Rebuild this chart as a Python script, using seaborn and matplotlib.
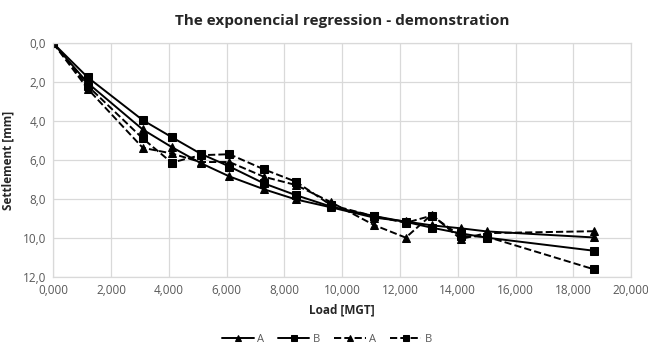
import numpy as np
import pandas as pd
import matplotlib
matplotlib.use('Agg')
import matplotlib.pyplot as plt
import matplotlib.ticker as mticker
import seaborn as sns

sns.set_style('white')
plt.rcParams['font.family'] = ['Open Sans', 'DejaVu Sans']

# Load [MGT] - shared by all series
load = [0.0, 1.2, 3.1, 4.1, 5.1, 6.1, 7.3, 8.4, 9.6, 11.1, 12.2, 13.1, 14.1, 15.0, 18.7]

# regression curves (solid)
reg_a = [0.0, 2.05, 4.43, 5.33, 6.15, 6.84, 7.5, 8.02, 8.42, 8.95, 9.15, 9.35, 9.5, 9.66, 9.97]
reg_b = [0.0, 1.76, 3.95, 4.82, 5.67, 6.33, 7.2, 7.8, 8.38, 8.87, 9.17, 9.47, 9.76, 9.98, 10.65]

# measured values (dashed)
meas_a = [0.0, 2.35, 5.37, 5.66, 6.1, 6.1, 6.86, 7.28, 8.15, 9.33, 9.98, 8.8, 10.05, 9.75, 9.65]
meas_b = [0.0, 2.2, 4.89, 6.13, 5.75, 5.7, 6.48, 7.11, 8.3, 8.88, 9.22, 8.85, 9.9, 9.93, 11.6]

series = [
    ('A', reg_a, '-', '^'),
    ('B', reg_b, '-', 's'),
    ('A', meas_a, '--', '^'),
    ('B', meas_b, '--', 's'),
]

fig, ax = plt.subplots(figsize=(6.48, 3.48), dpi=100)
fig.subplots_adjust(left=0.082, right=0.974, top=0.876, bottom=0.204)

for name, vals, ls, mk in series:
    df = pd.DataFrame({'load': load, 'settlement': vals})
    sns.lineplot(data=df, x='load', y='settlement', ax=ax, color='black',
                 linestyle=ls, linewidth=1.4, marker=mk, markersize=6,
                 markeredgecolor='black', label=name, sort=False)

ax.set_xlim(0, 20)
ax.set_ylim(12, 0)
ax.xaxis.set_major_locator(mticker.MultipleLocator(2))
ax.yaxis.set_major_locator(mticker.MultipleLocator(2))
ax.xaxis.set_major_formatter(mticker.FuncFormatter(lambda v, p: f'{v:.3f}'.replace('.', ',')))
ax.yaxis.set_major_formatter(mticker.FuncFormatter(lambda v, p: f'{v:.1f}'.replace('.', ',')))

ax.grid(True, color='#d9d9d9', linewidth=0.9)
for sp in ax.spines.values():
    sp.set_color('#d9d9d9')
    sp.set_linewidth(0.9)
ax.tick_params(axis='both', length=0, labelsize=8.5, labelcolor='#595959', pad=5)

ax.set_title('The exponencial regression - demonstration', fontsize=11,
             fontweight='bold', color='#262626', pad=13)
ax.set_xlabel('Load [MGT]', fontsize=8.5, fontweight='bold', color='#262626', labelpad=5)
ax.set_ylabel('Settlement [mm]', fontsize=8.5, fontweight='bold', color='#262626', labelpad=6)

handles, labels = ax.get_legend_handles_labels()
ax.get_legend().remove()
leg = fig.legend(handles, labels, loc='center', bbox_to_anchor=(0.505, 0.025), ncol=4,
                 frameon=False, fontsize=8, handlelength=2.8, columnspacing=1.3,
                 handletextpad=0.3, markerscale=0.75)
for t in leg.get_texts():
    t.set_color('#595959')

fig.savefig('out.png', dpi=100)
